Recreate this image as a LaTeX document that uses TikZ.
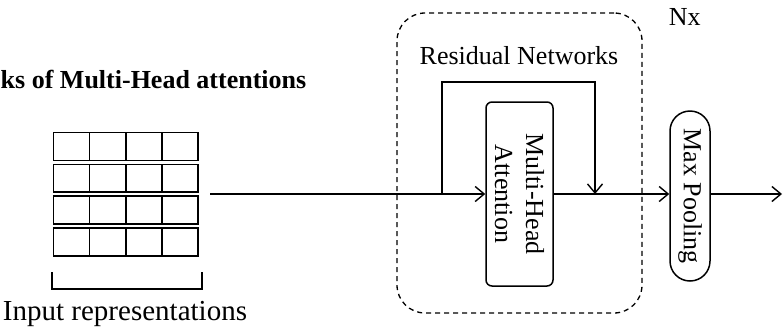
\documentclass[tikz,border=0pt]{standalone}
\usepackage{fontspec}
\setmainfont{Liberation Serif}
\usetikzlibrary{arrows.meta,positioning,shapes.misc}

\begin{document}
\begin{tikzpicture}[x=1pt,y=-1pt,line width=1.5pt,>={Straight Barb[length=9pt,width=15pt,line width=1.4pt]},
	every node/.style={font=\fontsize{26}{31}\selectfont},
	cell/.style={draw,minimum width=36.2pt,minimum height=27.8pt,inner sep=0pt},
	block/.style={draw,rounded corners=6pt,rotate=-90,minimum width=184pt,minimum height=67pt,align=center,inner sep=0pt},
	pooling/.style={draw,rounded rectangle,rotate=-90,minimum width=170pt,minimum height=40pt,inner sep=0pt},
	label/.style={inner sep=0pt}]
	\useasboundingbox (0,0) rectangle (783,330);
	\node[label,anchor=base west,font=\fontsize{26}{31}\selectfont\bfseries] (title) at (0,88) {ks of Multi-Head attentions};
	\foreach \r in {0,...,3}
		\foreach \c in {0,...,3}
			\node[cell] (c-\r-\c) at (71.5+36.2*\c,146.5+31.8*\r) {};
	\draw (52,272) -- (52,289) -- (202,289) -- (202,272);
	\node[label,anchor=base,font=\fontsize{29}{34}\selectfont] (input) at (125,320) {Input representations};
	\node[draw,dashed,dash pattern=on 5pt off 4pt,line width=1.3pt,rounded corners=28pt,minimum width=245pt,minimum height=300pt,inner sep=0pt] (res) at (519.5,163) {};
	\node[label,anchor=base] (reslabel) at (519,64) {Residual Networks};
	\node[label,anchor=base west] (nx) at (668,25) {Nx};
	\node[block] (mha) at (519.5,194) {Multi-Head\\Attention};
	\node[pooling] (pool) at (690,196) {Max Pooling};
	\coordinate (in) at (210,194);
	\coordinate (split) at (442,194);
	\coordinate (join) at (595,194);
	\coordinate (out) at (782,194);
	\draw[->] (in) -- (mha);
	\draw[->] (split) -- ++(0,-112) -| (join);
	\draw[->] (mha) -- (pool.south |- mha);
	\draw[->] (pool.north |- mha) -- (out);
\end{tikzpicture}
\end{document}
